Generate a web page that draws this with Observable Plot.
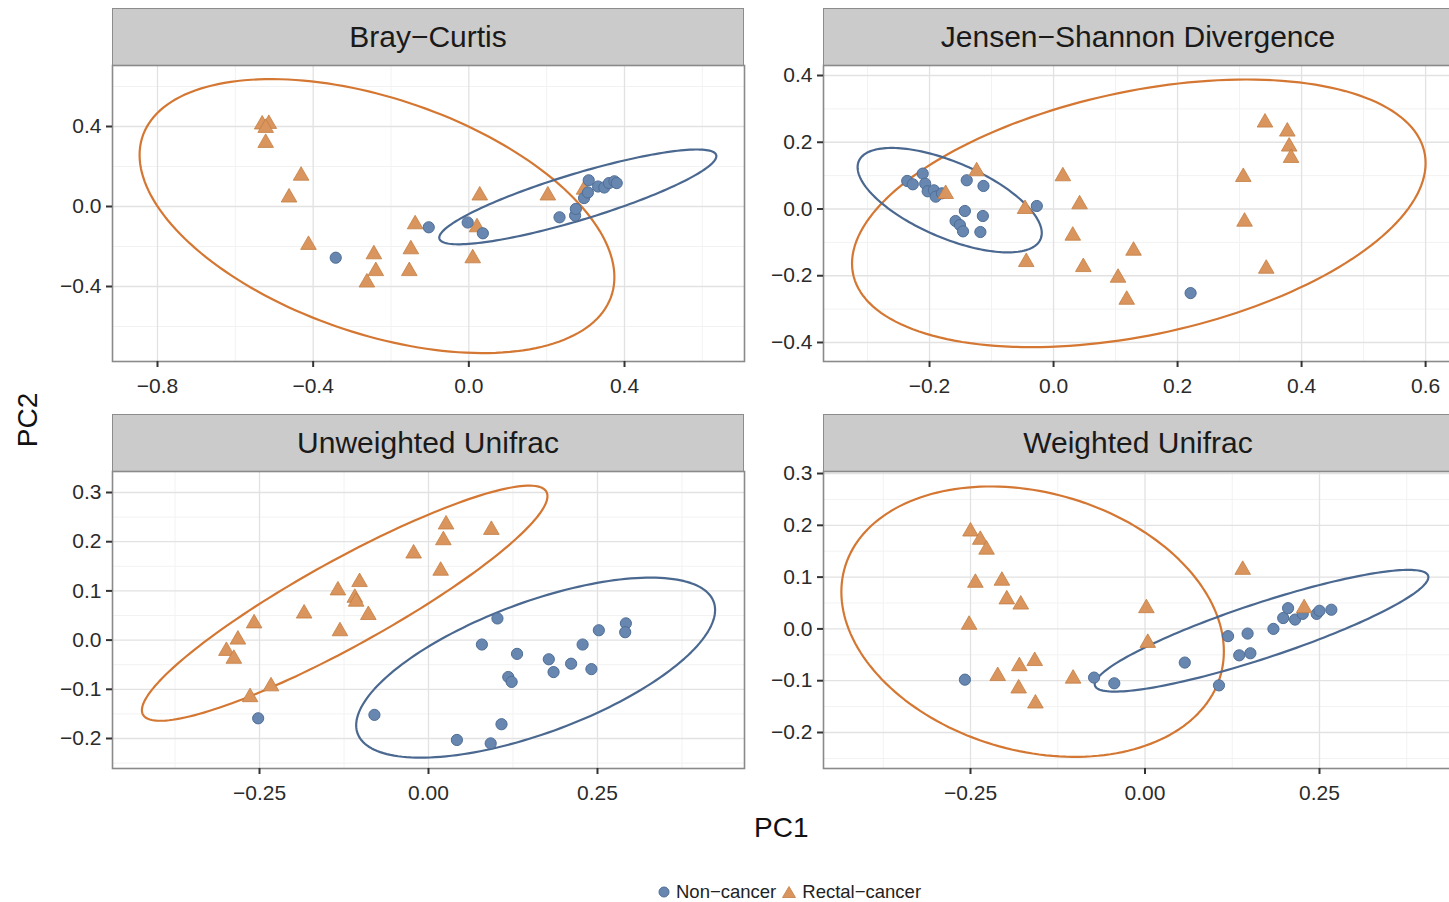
<!DOCTYPE html>
<html>
<head>
<meta charset="utf-8">
<script src="https://cdn.jsdelivr.net/npm/d3@7"></script>
<script src="https://cdn.jsdelivr.net/npm/@observablehq/plot@0.6"></script>
<style>
  html, body { margin: 0; padding: 0; background: #fff; overflow: hidden; }
  #root { position: relative; width: 1449px; height: 902px; overflow: hidden;
          font-family: "Liberation Sans", Arial, Helvetica, sans-serif; color: #1a1a1a; }
  .strip { position: absolute; background: #cbcbcb; border: 1.5px solid #8c8c8c; box-sizing: border-box;
           display: flex; align-items: center; justify-content: center; font-size: 30px; color: #1a1a1a; }
  .panel { position: absolute; }
  .axtitle { position: absolute; font-size: 28px; color: #111; white-space: nowrap; }
  .legend { position: absolute; display: flex; align-items: center; font-size: 18.5px; color: #222; white-space: nowrap; }
  .legend svg { display: block; }
</style>
</head>
<body>
<div id="root"></div>
<script>
// ---------------- data ----------------
const groups = ["Non−cancer", "Rectal−cancer"];
const panelTitles = ["Bray−Curtis", "Jensen−Shannon Divergence", "Unweighted Unifrac", "Weighted Unifrac"];

// Bray-Curtis
const brayNon = [[-0.342,-0.256],[-0.103,-0.104],[-0.003,-0.080],[0.036,-0.134],[0.233,-0.054],[0.273,-0.045],
  [0.275,-0.012],[0.296,0.042],[0.306,0.070],[0.308,0.131],[0.332,0.100],[0.348,0.095],[0.360,0.117],[0.374,0.126],[0.380,0.117]];
const brayRec = [[-0.531,0.410],[-0.514,0.413],[-0.522,0.393],[-0.522,0.318],[-0.431,0.154],[-0.462,0.045],
  [-0.412,-0.192],[-0.244,-0.239],[-0.239,-0.323],[-0.262,-0.380],[-0.138,-0.089],[-0.149,-0.214],[-0.153,-0.323],
  [0.028,0.055],[0.021,-0.104],[0.010,-0.259],[0.203,0.055],[0.296,0.084]];
// ellipses: [centerX, centerY, halfWidth, halfHeight, correlation]
const brayEllNon = [0.280, 0.048, 0.356, 0.237, 0.86];
const brayEllRec = [-0.236, -0.048, 0.610, 0.685, -0.446];
const brayXTicks = [-0.8, -0.4, 0.0, 0.4];
const brayYTicks = [-0.4, 0.0, 0.4];

// Jensen-Shannon Divergence
const jsdNon = [[-0.236,0.084],[-0.227,0.074],[-0.211,0.106],[-0.207,0.076],[-0.203,0.053],[-0.193,0.056],
  [-0.190,0.037],[-0.180,0.047],[-0.140,0.086],[-0.113,0.069],[-0.027,0.009],[-0.143,-0.006],[-0.114,-0.021],
  [-0.158,-0.036],[-0.151,-0.048],[-0.146,-0.067],[-0.118,-0.069],[0.221,-0.252]];
const jsdRec = [[0.341,0.259],[0.377,0.232],[0.380,0.187],[0.383,0.153],[0.306,0.096],[0.308,-0.038],[0.343,-0.179],
  [0.015,0.098],[0.042,0.014],[0.031,-0.080],[0.129,-0.125],[0.048,-0.174],[0.104,-0.206],[0.118,-0.272],
  [-0.044,-0.159],[-0.046,0.000],[-0.124,0.113],[-0.174,0.045]];
const jsdEllNon = [-0.1675, 0.0265, 0.1485, 0.1565, -0.63];
const jsdEllRec = [0.1375, -0.013, 0.4625, 0.401, 0.375];
const jsdXTicks = [-0.2, 0.0, 0.2, 0.4, 0.6];
const jsdYTicks = [-0.4, -0.2, 0.0, 0.2, 0.4];

// Unweighted Unifrac
const unwNon = [[-0.252,-0.159],[-0.080,-0.152],[0.042,-0.203],[0.092,-0.210],[0.108,-0.171],[0.102,0.044],
  [0.079,-0.009],[0.131,-0.028],[0.118,-0.075],[0.123,-0.085],[0.178,-0.039],[0.185,-0.065],[0.211,-0.048],
  [0.228,-0.009],[0.241,-0.059],[0.252,0.020],[0.292,0.034],[0.291,0.016]];
const unwRec = [[0.026,0.235],[0.093,0.224],[0.022,0.203],[-0.022,0.176],[0.018,0.141],[-0.102,0.118],[-0.134,0.101],
  [-0.109,0.086],[-0.107,0.078],[-0.089,0.051],[-0.184,0.054],[-0.131,0.018],[-0.258,0.034],[-0.282,0.001],
  [-0.299,-0.022],[-0.288,-0.038],[-0.233,-0.094],[-0.264,-0.116]];
const unwEllNon = [0.1585, -0.056, 0.2655, 0.183, 0.64];
const unwEllRec = [-0.124, 0.075, 0.300, 0.239, 0.91];
const unwXTicks = [-0.25, 0.00, 0.25];
const unwYTicks = [-0.2, -0.1, 0.0, 0.1, 0.2, 0.3];

// Weighted Unifrac
const wuNon = [[-0.258,-0.098],[-0.073,-0.094],[-0.044,-0.105],[0.057,-0.065],[0.106,-0.109],[0.119,-0.014],
  [0.147,-0.009],[0.135,-0.051],[0.151,-0.047],[0.184,0.000],[0.198,0.021],[0.205,0.040],[0.215,0.018],
  [0.226,0.029],[0.246,0.029],[0.250,0.035],[0.267,0.037]];
const wuRec = [[-0.250,0.188],[-0.236,0.172],[-0.227,0.153],[-0.243,0.089],[-0.205,0.093],[-0.198,0.057],
  [-0.178,0.047],[-0.252,0.008],[-0.211,-0.091],[-0.180,-0.072],[-0.158,-0.062],[-0.181,-0.115],[-0.157,-0.144],
  [-0.103,-0.096],[0.002,0.040],[0.004,-0.027],[0.140,0.114],[0.228,0.040]];
const wuEllNon = [0.167, -0.0035, 0.239, 0.1175, 0.88];
const wuEllRec = [-0.161, 0.014, 0.274, 0.261, -0.22];
const wuXTicks = [-0.25, 0.00, 0.25];
const wuYTicks = [-0.2, -0.1, 0.0, 0.1, 0.2, 0.3];

// ---------------- styling / layout ----------------
const COL_NON = "#6787b0", COL_NON_EDGE = "#4f6e96", ELL_NON = "#4a6890";
const COL_REC = "#d9955d", COL_REC_EDGE = "#c47d43", ELL_REC = "#d47733";
const ML = 70, MB = 46;
const panels = [
  {title: panelTitles[0], non: brayNon, rec: brayRec, eNon: brayEllNon, eRec: brayEllRec, xt: brayXTicks, yt: brayYTicks,
   xd: [-0.9156, 0.7083], yd: [-0.775, 0.705], fx: ".1f", fy: ".1f", left: 112, top: 65, w: 632, h: 296, stripTop: 8, recFirst: true},
  {title: panelTitles[1], non: jsdNon, rec: jsdRec, eNon: jsdEllNon, eRec: jsdEllRec, xt: jsdXTicks, yt: jsdYTicks,
   xd: [-0.371, 0.645], yd: [-0.457, 0.43], fx: ".1f", fy: ".1f", left: 823, top: 65, w: 630, h: 296, stripTop: 8},
  {title: panelTitles[2], non: unwNon, rec: unwRec, eNon: unwEllNon, eRec: unwEllRec, xt: unwXTicks, yt: unwYTicks,
   xd: [-0.4675, 0.4675], yd: [-0.261, 0.3427], fx: ".2f", fy: ".1f", left: 112, top: 471, w: 632, h: 297, stripTop: 414},
  {title: panelTitles[3], non: wuNon, rec: wuRec, eNon: wuEllNon, eRec: wuEllRec, xt: wuXTicks, yt: wuYTicks,
   xd: [-0.4606, 0.442], yd: [-0.2695, 0.3039], fx: ".2f", fy: ".1f", left: 823, top: 471, w: 630, h: 297, stripTop: 414}
];

function ellipsePoints(p) {
  const [cx, cy, sx, sy, r] = p;
  const q = Math.sqrt(1 - r * r);
  return d3.range(0, 361, 2).map(deg => {
    const t = deg * Math.PI / 180;
    return {x: cx + sx * Math.cos(t), y: cy + sy * (r * Math.cos(t) + q * Math.sin(t))};
  });
}
function minorTicks(ticks, dom) {
  const step = ticks[1] - ticks[0];
  const out = [];
  for (let v = ticks[0] - step * 3.5; v <= dom[1]; v += step) if (v >= dom[0]) out.push(v);
  return out;
}
const fmt = f => { const g = d3.format(f); return v => g(Math.abs(v) < 1e-9 ? 0 : v); };

const root = document.getElementById("root");

for (const p of panels) {
  const strip = document.createElement("div");
  strip.className = "strip";
  strip.style.left = p.left + "px";
  strip.style.top = p.stripTop + "px";
  strip.style.width = p.w + "px";
  strip.style.height = (p.top - p.stripTop + 1) + "px";
  strip.textContent = p.title;
  root.appendChild(strip);

  const nonDots = Plot.dot(p.non, {x: d => d[0], y: d => d[1], r: 5.6, symbol: "circle", fill: COL_NON, stroke: COL_NON_EDGE, strokeWidth: 1});
  const recDots = Plot.dot(p.rec, {x: d => d[0], y: d => d[1], r: 5.8, symbol: "triangle", fill: COL_REC, stroke: COL_REC_EDGE, strokeWidth: 0.8});

  const chart = Plot.plot({
    width: p.w + ML, height: p.h + MB,
    marginLeft: ML, marginRight: 0, marginTop: 0, marginBottom: MB,
    x: {domain: p.xd}, y: {domain: p.yd},
    style: {fontFamily: '"Liberation Sans", Arial, Helvetica, sans-serif', fontSize: "21px", color: "#2b2b2b", background: "transparent", overflow: "visible"},
    marks: [
      Plot.ruleX(minorTicks(p.xt, p.xd), {stroke: "#f2f2f2", strokeWidth: 1}),
      Plot.ruleY(minorTicks(p.yt, p.yd), {stroke: "#f2f2f2", strokeWidth: 1}),
      Plot.ruleX(p.xt, {stroke: "#e2e2e2", strokeWidth: 1.3}),
      Plot.ruleY(p.yt, {stroke: "#e2e2e2", strokeWidth: 1.3}),
      Plot.line(ellipsePoints(p.eRec), {x: "x", y: "y", stroke: ELL_REC, strokeWidth: 2.2, clip: true}),
      Plot.line(ellipsePoints(p.eNon), {x: "x", y: "y", stroke: ELL_NON, strokeWidth: 2.2, clip: true}),
      ...(p.recFirst ? [recDots, nonDots] : [nonDots, recDots]),
      Plot.frame({stroke: "#8a8a8a", strokeWidth: 1.6}),
      Plot.axisX({ticks: p.xt, tickFormat: fmt(p.fx), tickSize: 6, tickPadding: 11, strokeWidth: 2, label: null, stroke: "#333", fill: "#2b2b2b"}),
      Plot.axisY({ticks: p.yt, tickFormat: fmt(p.fy), tickSize: 6, tickPadding: 5, strokeWidth: 2, label: null, stroke: "#333", fill: "#2b2b2b"})
    ]
  });
  chart.classList.add("panel");
  chart.style.left = (p.left - ML) + "px";
  chart.style.top = p.top + "px";
  root.appendChild(chart);
}

// axis titles
const pc1 = document.createElement("div");
pc1.className = "axtitle"; pc1.textContent = "PC1";
pc1.style.left = "754px"; pc1.style.top = "812px";
root.appendChild(pc1);
const pc2 = document.createElement("div");
pc2.className = "axtitle"; pc2.textContent = "PC2";
pc2.style.left = "28px"; pc2.style.top = "420px";
pc2.style.transform = "translate(-50%, -50%) rotate(-90deg)";
root.appendChild(pc2);

// legend
const legend = document.createElement("div");
legend.className = "legend";
legend.style.left = "657px"; legend.style.top = "881px";
legend.innerHTML =
  `<svg width="14" height="14"><circle cx="7" cy="7" r="5" fill="${COL_NON}" stroke="${COL_NON_EDGE}"/></svg>` +
  `<span style="margin-left:5px">${groups[0]}</span>` +
  `<svg width="16" height="14" style="margin-left:5px"><path d="M8,1.5 L14.5,12.5 L1.5,12.5 Z" fill="${COL_REC}" stroke="${COL_REC_EDGE}" stroke-width="0.8"/></svg>` +
  `<span style="margin-left:5px">${groups[1]}</span>`;
root.appendChild(legend);
</script>
</body>
</html>
